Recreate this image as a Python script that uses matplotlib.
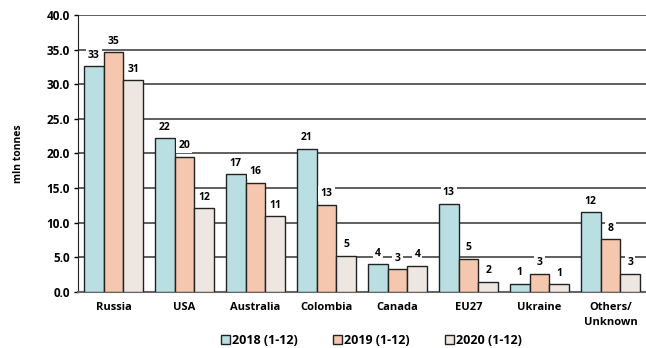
import matplotlib.pyplot as plt
import numpy as np

countries = ['Russia', 'USA', 'Australia', 'Colombia', 'Canada', 'EU27', 'Ukraine', 'Others/\nUnknown']
y2018 = [32.6, 22.2, 17.0, 20.7, 4.0, 12.7, 1.2, 11.5]
y2019 = [34.6, 19.5, 15.8, 12.6, 3.3, 4.8, 2.6, 7.6]
y2020 = [30.6, 12.1, 10.9, 5.2, 3.8, 1.5, 1.1, 2.6]
series = ['2018 (1-12)', '2019 (1-12)', '2020 (1-12)']
colors = ['#BADFE3', '#F4C7AE', '#EEE7E1']

plt.rcParams['font.family'] = ['Open Sans', 'DejaVu Sans']
plt.rcParams['font.weight'] = 'bold'

fig = plt.figure(figsize=(6.46, 3.48), dpi=100)
ax = fig.add_axes([0.1207, 0.161, 0.8793, 0.796])

x = np.arange(len(countries))
w = 0.28
for i, (vals, lab, c) in enumerate(zip([y2018, y2019, y2020], series, colors)):
    bars = ax.bar(x + (i - 1) * w, vals, w, color=c, edgecolor='#222222', linewidth=1.0,
                  label=lab, zorder=3)
    for b, v in zip(bars, vals):
        ax.text(b.get_x() + b.get_width() / 2, v + 0.8, '%d' % round(v), ha='center', va='bottom',
                fontsize=7.5, fontweight='bold', zorder=4,
                bbox=dict(facecolor='white', edgecolor='none', pad=1.5))

ax.set_xlim(-0.5, 7.5)
ax.set_ylim(0, 40)
ax.set_yticks(np.arange(0, 41, 5))
ax.set_yticklabels(['%.1f' % t for t in np.arange(0, 41, 5)], fontsize=8.5, fontweight='bold')
ax.set_xticks(x)
ax.set_xticklabels(countries, fontsize=8, fontweight='bold', linespacing=1.5)
ax.tick_params(axis='x', length=0, pad=7)
ax.tick_params(axis='y', length=3, width=1, direction='out', pad=3)
ax.yaxis.grid(True, color='#444444', linewidth=1.2, zorder=0)
ax.set_axisbelow(True)
for s in ['top', 'right']:
    ax.spines[s].set_visible(False)
ax.spines['left'].set_color('#222222')
ax.spines['bottom'].set_color('#666666')
ax.spines['bottom'].set_linewidth(1.5)
ax.set_ylabel('mln tonnes', fontsize=7.5, fontweight='bold', labelpad=16)

fig.legend(loc='lower center', bbox_to_anchor=(0.575, -0.03), ncol=3, frameon=False,
           handlelength=0.7, handleheight=0.7, handletextpad=0.2,
           columnspacing=2.8, prop={'weight': 'bold', 'size': 9})

fig.savefig('out.png', dpi=100)
